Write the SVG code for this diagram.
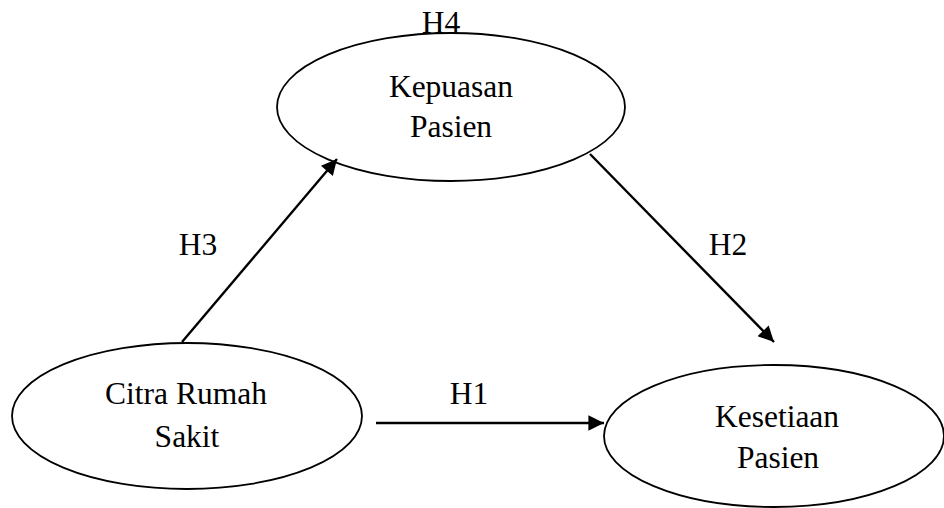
<svg xmlns="http://www.w3.org/2000/svg" width="944" height="508" viewBox="0 0 944 508">
<defs>
<style>
.node{fill:#fff;stroke:#000;stroke-width:1.8}
.t{font-family:"Liberation Serif","Times New Roman",serif;font-size:31.5px;fill:#000;text-anchor:middle}
.c{stroke:#000;stroke-width:2.4;fill:none}
</style>
<marker id="ah" viewBox="0 0 10 10" refX="10" refY="5" markerWidth="7.5" markerHeight="6.5" markerUnits="strokeWidth" orient="auto">
<path d="M0,0 L10,5 L0,10 z" fill="#000"/>
</marker>
</defs>
<rect width="944" height="508" fill="#fff"/>
<g id="kepuasan">
<ellipse class="node" cx="451" cy="107" rx="174" ry="74"/>
<text class="t" x="451" y="97">Kepuasan</text>
<text class="t" x="451" y="137">Pasien</text>
</g>
<g id="citra">
<ellipse class="node" cx="187" cy="416" rx="175" ry="73"/>
<text class="t" x="186" y="404">Citra Rumah</text>
<text class="t" x="187" y="447">Sakit</text>
</g>
<g id="kesetiaan">
<ellipse class="node" cx="774" cy="436" rx="170" ry="71"/>
<text class="t" x="777" y="427">Kesetiaan</text>
<text class="t" x="778" y="468">Pasien</text>
</g>
<g id="connectors">
<line class="c" x1="182" y1="342" x2="337" y2="159" marker-end="url(#ah)"/>
<line class="c" x1="590" y1="154" x2="774" y2="342" marker-end="url(#ah)"/>
<line class="c" x1="376" y1="423" x2="604" y2="423" marker-end="url(#ah)"/>
</g>
<g id="labels">
<text class="t" x="441" y="33">H4</text>
<text class="t" x="198" y="255">H3</text>
<text class="t" x="728" y="255">H2</text>
<text class="t" x="469" y="404">H1</text>
</g>
</svg>
